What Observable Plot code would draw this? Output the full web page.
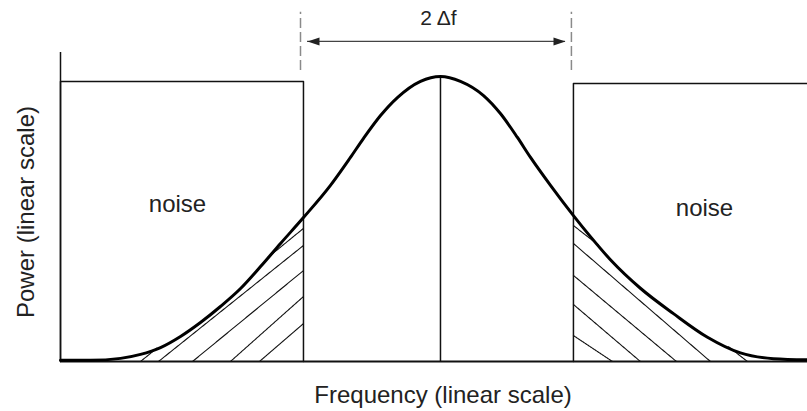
<!DOCTYPE html>
<html><head><meta charset="utf-8">
<script src="https://cdn.jsdelivr.net/npm/d3@7"></script>
<script src="https://cdn.jsdelivr.net/npm/@observablehq/plot@0.6"></script>
<style>html,body{margin:0;padding:0;background:#fff;overflow:hidden}</style>
</head><body><div id="chart"></div>
<script>
// Frequency in units of Δf from the carrier, power relative to the signal peak
const xDomain = [-2.815, 2.719];
const yDomain = [0, 1.084];

// Signal spectrum
const curveFreq  = [-2.815,-2.593,-2.370,-2.222,-2.074,-1.926,-1.778,-1.630,-1.481,-1.333,-1.185,-1.015,-0.815,-0.667,-0.570,-0.444,-0.319,-0.148,0,0.148,0.319,0.444,0.570,0.667,0.815,0.985,1.111,1.259,1.481,1.726,1.978,2.222,2.467,2.719];
const curvePower = [0.004,0.004,0.011,0.025,0.049,0.088,0.137,0.193,0.256,0.333,0.414,0.505,0.618,0.716,0.783,0.863,0.926,0.983,1.0,0.983,0.933,0.870,0.786,0.716,0.618,0.512,0.438,0.357,0.257,0.168,0.085,0.030,0.010,0.006];

// Noise blocks on either side of the band
const noiseLeftEdges  = [-2.815, -1.015];
const noiseRightEdges = [0.985, 2.719];
const noiseLevels     = [0.982, 0.975];
const noiseLabels     = ["noise", "noise"];
const noiseLabelFreq  = [-1.948, 1.956];
const noiseLabelPower = [0.523, 0.509];

// Band limits (dashed) and the 2Δf arrow
const bandEdges   = [-1.037, 0.970];
const bandSpan    = [1.021, 1.225];
const arrowEnds   = [-0.985, 0.926];
const arrowLevel  = 1.123;
const bandLabel   = "2 Δf";
const bandLabelAt = [-0.015, 1.179];

// Hatch lines: power where each meets the block edge, frequency where it meets the baseline
const hatchLeftEdgePower  = [0.467, 0.407, 0.319, 0.228, 0.133];
const hatchLeftBaseFreq   = [-2.222, -2.089, -1.837, -1.556, -1.341];
const hatchRightEdgePower = [0.477, 0.414, 0.302, 0.200, 0.091];
const hatchRightBaseFreq  = [2.274, 2.000, 1.748, 1.481, 1.274];

const xLabel = "Frequency (linear scale)";
const yLabel = "Power (linear scale)";

const curve = curveFreq.map((f, i) => ({f, p: curvePower[i]}));
function curveAt(f) {
  for (let i = 1; i < curveFreq.length; i++) {
    if (f <= curveFreq[i]) {
      const t = (f - curveFreq[i-1]) / (curveFreq[i] - curveFreq[i-1]);
      return curvePower[i-1] + t * (curvePower[i] - curvePower[i-1]);
    }
  }
  return curvePower[curvePower.length - 1];
}
// Hatching is only visible beneath the curve
const hatch = [];
function addHatch(edgeF, edgeP, baseF, id) {
  const N = 120;
  for (let k = 0; k <= N; k++) {
    const t = k / N;
    const f = edgeF + t * (baseF - edgeF);
    const p = edgeP * (1 - t);
    hatch.push({id, f, p: p <= curveAt(f) + 0.003 ? p : NaN});
  }
}
hatchLeftEdgePower.forEach((p, i) => addHatch(noiseLeftEdges[1], p, hatchLeftBaseFreq[i], "L" + i));
hatchRightEdgePower.forEach((p, i) => addHatch(noiseRightEdges[0], p, hatchRightBaseFreq[i], "R" + i));

const leftBlock = [
  {f: noiseLeftEdges[0], p: 0}, {f: noiseLeftEdges[0], p: noiseLevels[0]},
  {f: noiseLeftEdges[1], p: noiseLevels[0]}, {f: noiseLeftEdges[1], p: 0}];
const rightBlock = [
  {f: noiseRightEdges[0], p: 0}, {f: noiseRightEdges[0], p: noiseLevels[1]},
  {f: noiseRightEdges[1], p: noiseLevels[1]}];

const headSymbol = {draw(ctx) { ctx.moveTo(0, 0); ctx.lineTo(-4, 12); ctx.lineTo(4, 12); ctx.closePath(); }};
const heads = arrowEnds.map((f, i) => ({f, r: i === 0 ? -90 : 90}));

const font = "'Liberation Sans', Arial, Helvetica, sans-serif";
const chart = Plot.plot({
  width: 807, height: 411,
  marginLeft: 60, marginRight: 0, marginTop: 52, marginBottom: 50,
  x: {domain: xDomain, axis: null},
  y: {domain: yDomain, axis: null},
  style: {fontFamily: font, background: "white"},
  marks: [
    Plot.line(hatch, {x: "f", y: "p", z: "id", stroke: "#111", strokeWidth: 1.1}),
    Plot.line(leftBlock, {x: "f", y: "p", stroke: "#111", strokeWidth: 1.5}),
    Plot.line(rightBlock, {x: "f", y: "p", stroke: "#111", strokeWidth: 1.5}),
    Plot.ruleX([xDomain[0]], {y1: yDomain[0], y2: yDomain[1], stroke: "#111", strokeWidth: 1.5}),
    Plot.ruleY([0], {x1: xDomain[0], x2: xDomain[1], stroke: "#111", strokeWidth: 1.8}),
    Plot.ruleX([0], {y1: 0, y2: d3.max(curvePower), stroke: "#111", strokeWidth: 1.5}),
    Plot.line(curve, {x: "f", y: "p", curve: "monotone-x", stroke: "#000", strokeWidth: 3}),
    Plot.ruleX(bandEdges, {y1: bandSpan[0], y2: bandSpan[1], stroke: "#8a8a8a", strokeWidth: 1.5, strokeDasharray: "10,4"}),
    Plot.ruleY([arrowLevel], {x1: arrowEnds[0], x2: arrowEnds[1], stroke: "#444", strokeWidth: 1.4}),
    Plot.dot(heads, {x: "f", y: () => arrowLevel, r: 4, symbol: headSymbol, rotate: "r", fill: "#222", stroke: "none"}),
    Plot.text([bandLabel], {x: () => bandLabelAt[0], y: () => bandLabelAt[1], fontSize: 21, fill: "#222", lineAnchor: "bottom"}),
    Plot.text(noiseLabels, {x: (d, i) => noiseLabelFreq[i], y: (d, i) => noiseLabelPower[i], fontSize: 24, fill: "#222", lineAnchor: "bottom"}),
    Plot.text([yLabel], {frameAnchor: "left", rotate: -90, dx: -34, dy: 5, fontSize: 24, fill: "#222", textAnchor: "middle", lineAnchor: "middle"}),
    Plot.text([xLabel], {frameAnchor: "bottom", dx: 9, dy: 41, fontSize: 24, fill: "#222", textAnchor: "middle", lineAnchor: "bottom"})
  ]
});
document.getElementById("chart").append(chart);
</script>
</body></html>
